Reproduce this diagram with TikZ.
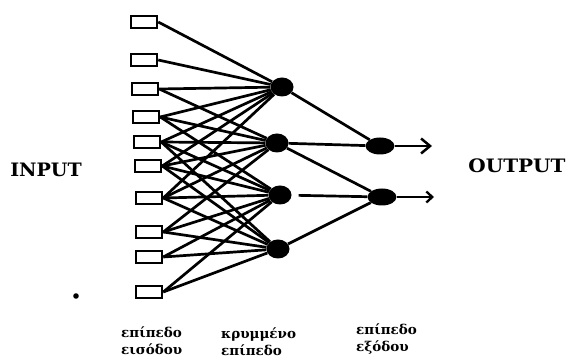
\documentclass[tikz,border=0pt]{standalone}
\usepackage{fontspec}
\newfontfamily\labelfont{DejaVu Serif Bold}
\usetikzlibrary{arrows.meta,shapes.geometric}

\begin{document}
\begin{tikzpicture}[x=1pt,y=-1pt,
  wire/.style={line width=2.7pt},
  inbox/.style={draw, fill=white, line width=2.5pt, minimum width=26pt, minimum height=12pt, inner sep=0pt},
  hid/.style={ellipse, fill, minimum width=23pt, minimum height=19pt, inner sep=0pt},
  outn/.style={ellipse, fill, minimum width=29pt, minimum height=17pt, inner sep=0pt},
  bigword/.style={font=\labelfont\fontsize{18.5}{18}\selectfont, inner sep=0pt},
  layername/.style={font=\labelfont\fontsize{13.5}{17}\selectfont, align=left, anchor=west, inner sep=0pt}]
\useasboundingbox (0,0) rectangle (568,363);

% input layer
\node[inbox] (i1) at (144,22) {};
\node[inbox] (i2) at (144,60) {};
\node[inbox] (i3) at (145,89) {};
\node[inbox] (i4) at (146,117) {};
\node[inbox] (i5) at (147,142) {};
\node[inbox] (i6) at (148,166) {};
\node[inbox] (i7) at (149,198) {};
\node[inbox] (i8) at (149,232) {};
\node[inbox] (i9) at (149,257) {};
\node[inbox] (i10) at (149,292) {};

% hidden layer
\node[hid] (h1) at (282,87) {};
\node[hid] (h2) at (277,143) {};
\node[hid] (h3) at (280,195) {};
\node[hid] (h4) at (278,249) {};

% output layer
\node[outn] (o1) at (380,146) {};
\node[outn] (o2) at (382,197) {};
\coordinate (y1) at (432,146);
\coordinate (y2) at (434,197);

% input -> hidden
\foreach \i/\hs in {1/{1}, 2/{1}, 3/{1,2}, 4/{1,2,3}, 5/{1,2,3,4}, 6/{1,2,3,4},
                    7/{1,2,3,4}, 8/{2,3,4}, 9/{3,4}, 10/{3,4}}
  \foreach \h in \hs
    \draw[wire] (i\i.east) -- (h\h);

% hidden -> output
\draw[wire] (h1) -- (o1);
\draw[wire] (h2) -- (o1);
\draw[wire] (h2) -- (o2);
\draw[wire, shorten <=7pt] (h3) -- (o2);
\draw[wire] (h4) -- (o2);

% output arrows
\draw[wire, -{Straight Barb[length=9pt,width=15pt,line width=2.5pt]}] (o1) -- (y1);
\draw[wire, -{Straight Barb[length=6pt,width=11pt,line width=2.3pt]}] (o2) -- (y2);

% labels
\node[bigword, xscale=1.03] (inp) at (46,170) {INPUT};
\node[bigword, xscale=1.08] (outp) at (517,166) {OUTPUT};
\fill (76,296) circle (2.8pt);

\node[layername] (l1) at (121,341) {επίπεδο\\εισόδου};
\node[layername] (l2) at (221,342) {κρυμμένο\\επίπεδο};
\node[layername] (l3) at (356,339) {επίπεδο\\εξόδου};
\end{tikzpicture}
\end{document}
